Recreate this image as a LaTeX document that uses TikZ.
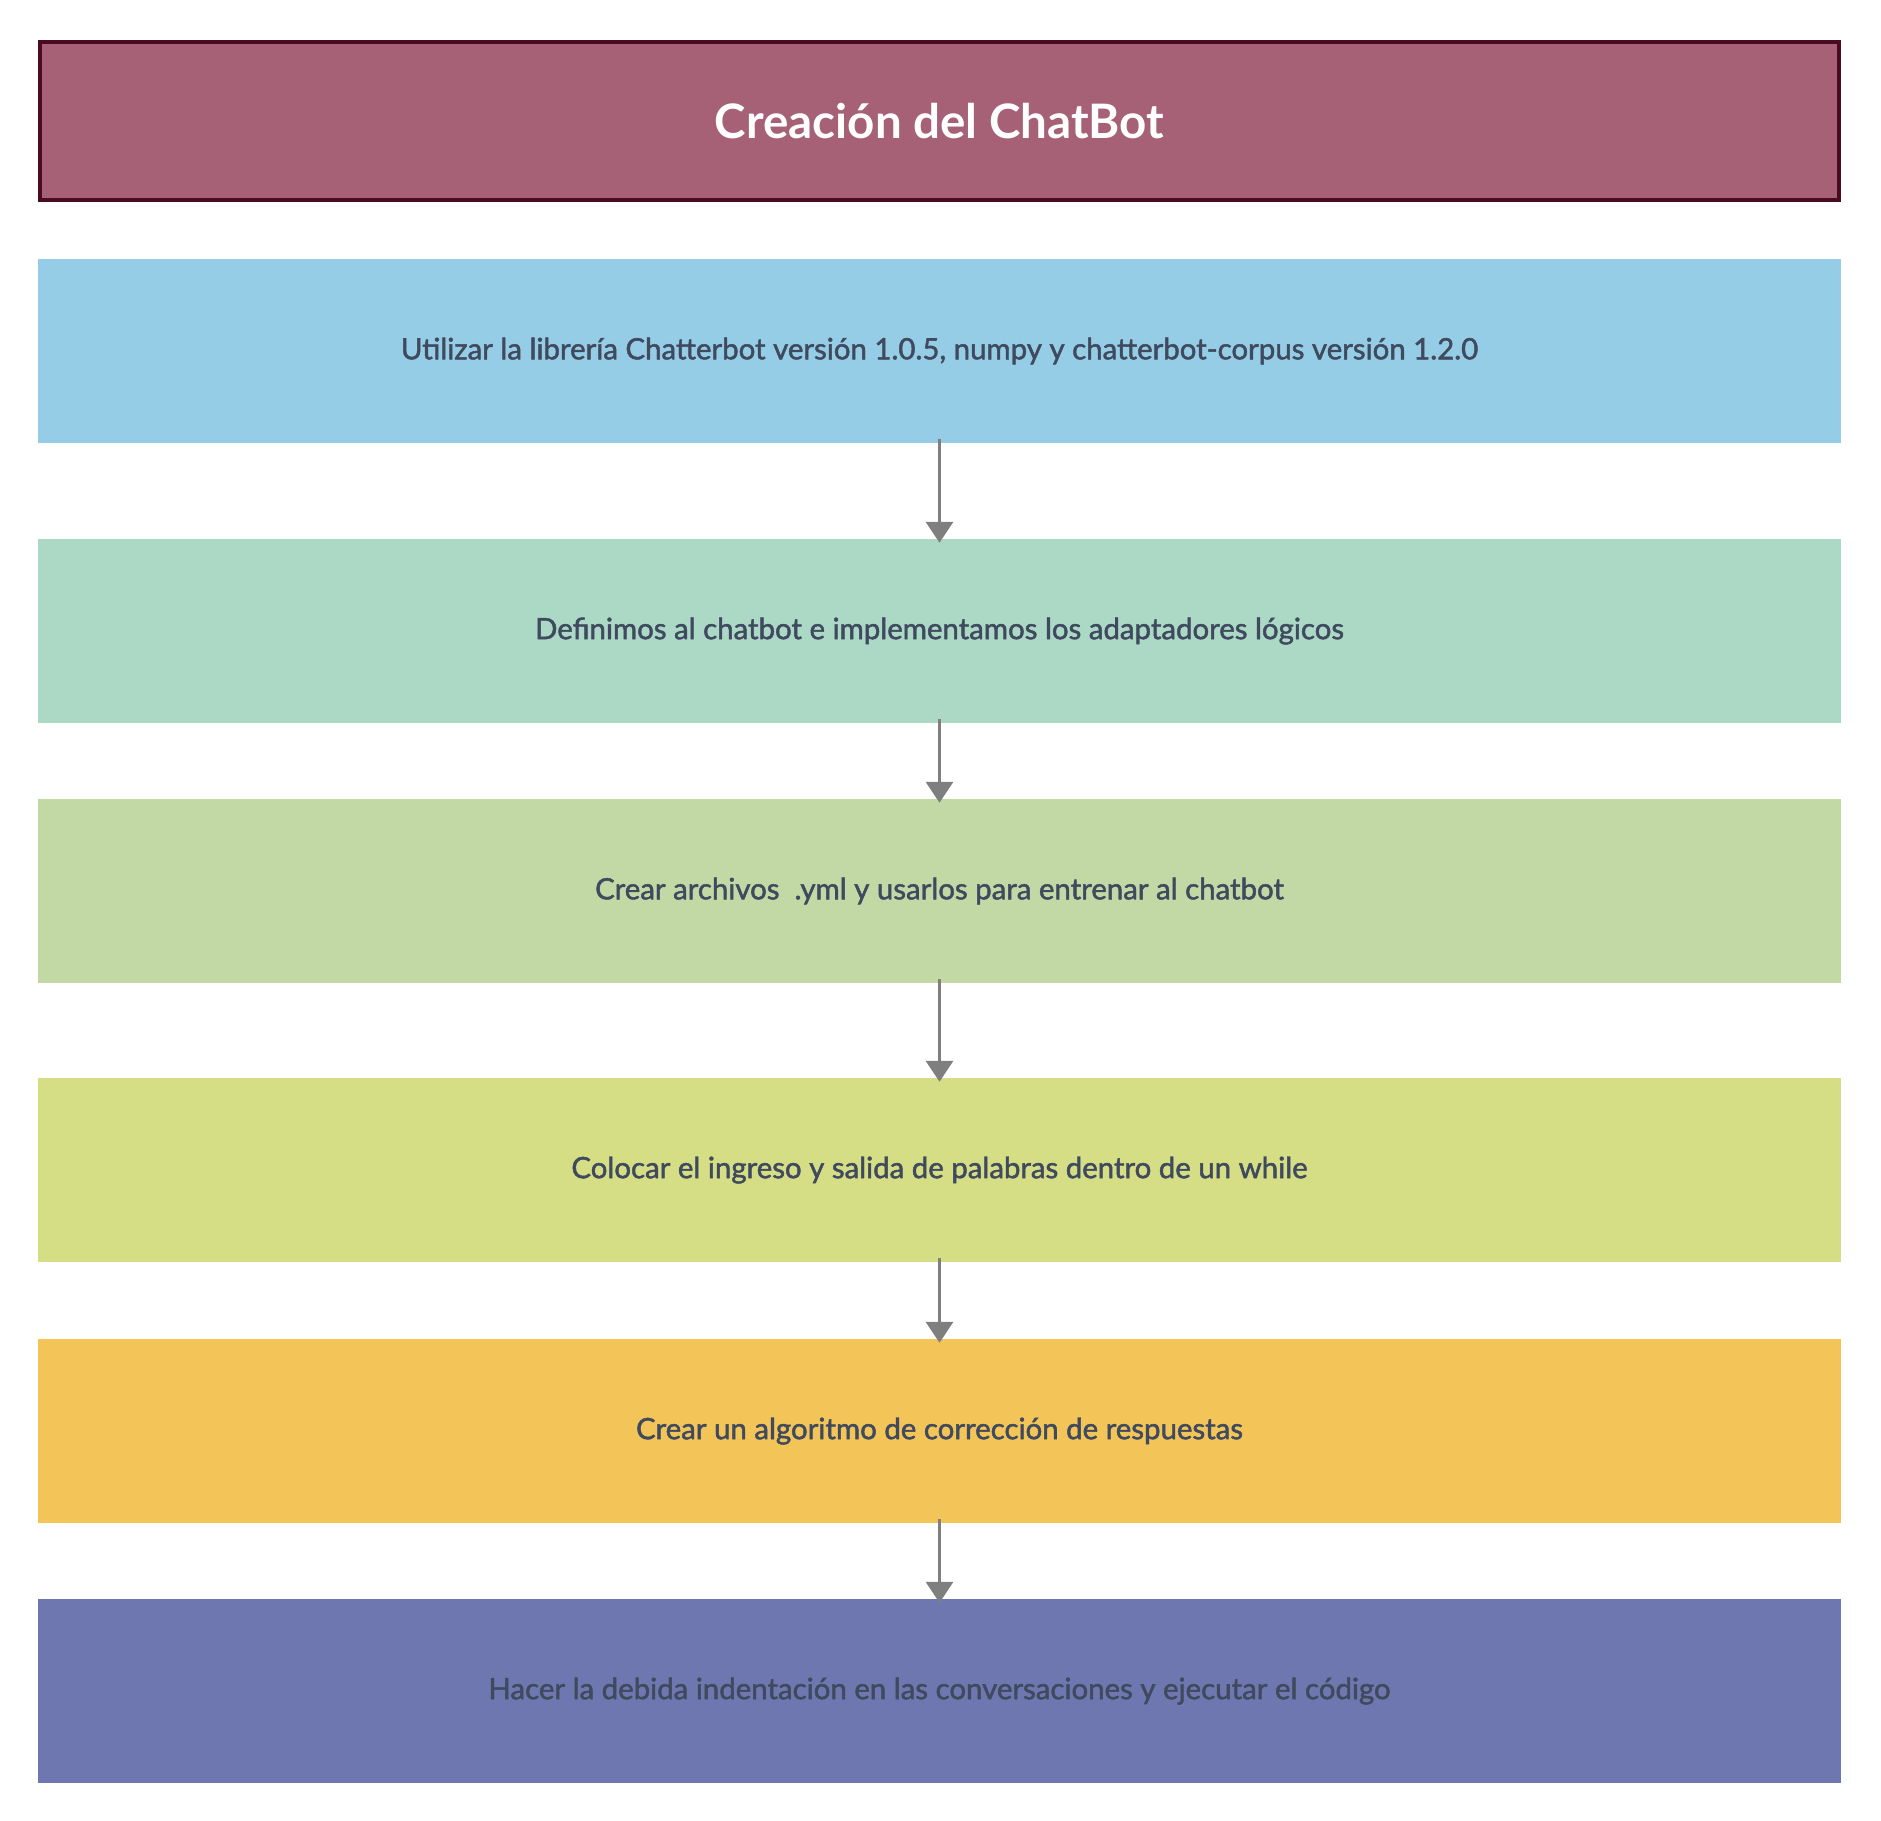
\documentclass[tikz,border=0pt]{standalone}
\usepackage{fontspec}
\setmainfont{Lato}
\newfontfamily\stepfont{Lato}[FakeBold=1.6]
\usetikzlibrary{arrows.meta}
\definecolor{titlefill}{HTML}{A66177}
\definecolor{titleline}{HTML}{4A0B22}
\definecolor{stepa}{HTML}{96CDE6}
\definecolor{stepb}{HTML}{ACD9C6}
\definecolor{stepc}{HTML}{C3D9A5}
\definecolor{stepd}{HTML}{D5DE84}
\definecolor{stepe}{HTML}{F3C457}
\definecolor{stepf}{HTML}{6E77AF}
\definecolor{textgray}{HTML}{3F4A5E}
\definecolor{arrowgray}{HTML}{7F7F7F}

\begin{document}
\begin{tikzpicture}[x=1pt,y=-1pt,
  box/.style={minimum width=1803pt,minimum height=184pt,inner sep=0pt,
    text=textgray,font=\stepfont\fontsize{29.4}{34}\selectfont},
  flow/.style={draw=arrowgray,line width=3.3pt,
    -{Triangle[width=27pt,length=21pt]},shorten <=-4pt,shorten >=-4pt}]
  \useasboundingbox (0,0) rectangle (1881,1820);

  % title
  \node[draw=titleline,line width=4pt,fill=titlefill,minimum width=1799pt,
    minimum height=158pt,inner sep=0pt,text=white,
    font=\bfseries\fontsize{47.5}{54}\selectfont] (title) at (939.5,121) {Creación del ChatBot};

  % steps
  \foreach \n/\y/\c/\t in {
    1/351/stepa/{Utilizar la librería Chatterbot versión 1.0.5, numpy y chatterbot-corpus versión 1.2.0},
    2/631/stepb/{Definimos al chatbot e implementamos los adaptadores lógicos},
    3/891/stepc/{Crear archivos~~.yml y usarlos para entrenar al chatbot},
    4/1170/stepd/{Colocar el ingreso y salida de palabras dentro de un while},
    5/1431/stepe/{Crear un algoritmo de corrección de respuestas},
    6/1691/stepf/{Hacer la debida indentación en las conversaciones y ejecutar el código}}{
    \node[box,fill=\c] (s\n) at (939.5,\y) {\t};
  }

  \foreach \a/\b in {1/2,2/3,3/4,4/5,5/6}
    \draw[flow] (s\a) -- (s\b);

\end{tikzpicture}
\end{document}
